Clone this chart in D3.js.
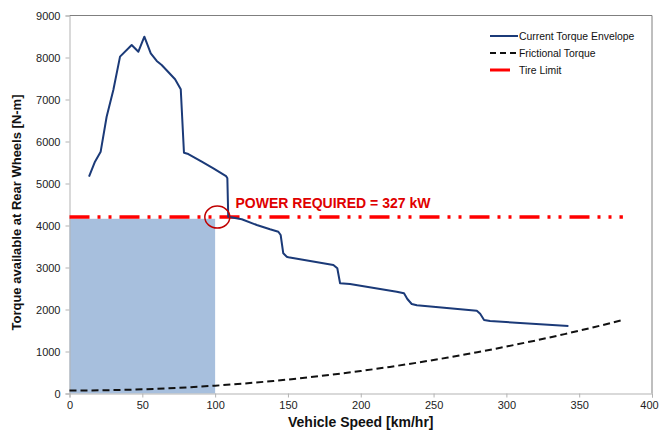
<!DOCTYPE html>
<html>
<head>
<meta charset="utf-8">
<title>torque envelope</title>
<script src="https://cdn.jsdelivr.net/npm/d3@7"></script>
<style>
	body, html{
		margin: 0;
		padding: 0;
		background: #fff;
	}
	svg{
		display: block;
		font-family: "Liberation Sans", Arial, sans-serif;
	}
	.tick text{
		fill: #222;
		font-size: 11px;
	}
	.axis-title{
		font-weight: bold;
		fill: #111;
	}
	.legend text{
		font-size: 10.4px;
		fill: #111;
	}
</style>
</head>
<body>
<svg id="chart" width="659" height="431"></svg>
<script>
	// current torque envelope
	var envSpeed = [13.4, 17.5, 21.4, 25.5, 30.1, 34.7, 42.7, 47.3, 51.4, 55.8, 59.9, 63.3, 72.5, 76.4, 78.6, 81.6, 90.8, 98.8, 107.5, 108.4,
		109.0, 118.3, 128.6, 137.7, 143.4, 145.0, 146.8, 149.2, 150.3, 181.2, 183.9, 185.8, 192.6, 224.7, 229.7, 232.0, 235.0, 238.5,
		279.7, 282.0, 284.7, 288.8, 342.6];
	var envTorque = [5162, 5520, 5757, 6590, 7226, 8020, 8298, 8138, 8495, 8100, 7917, 7821, 7481, 7243, 5733, 5702, 5520, 5362, 5178, 5124,
		4210, 4148, 4012, 3910, 3852, 3774, 3338, 3257, 3243, 3060, 2981, 2624, 2607, 2424, 2386, 2250, 2131, 2100,
		1971, 1900, 1750, 1726, 1607];

	// frictional torque
	var fricSpeed = [0, 20, 40, 60, 80, 100, 120, 140, 160, 180, 200, 220, 240, 260, 280, 300, 320, 340, 360, 380];
	var fricTorque = [70, 75, 89, 112, 144, 186, 237, 298, 368, 447, 535, 633, 740, 856, 982, 1117, 1261, 1414, 1577, 1750];

	// tire limit
	var tireSpeed = [0, 380];
	var tireTorque = [4200, 4200];

	// shaded power region and marker
	var shadeSpeed = [0, 100];
	var shadeTorque = 4160;
	var markSpeed = 101.5;
	var markTorque = 4200;

	var xTicks = [0, 50, 100, 150, 200, 250, 300, 350, 400];
	var yTicks = [0, 1000, 2000, 3000, 4000, 5000, 6000, 7000, 8000, 9000];

	var legendLabels = ['Current Torque Envelope', 'Frictional Torque', 'Tire Limit'];

	function draw() {
		var svg = d3.select('#chart'),
			plotLeft = 69.5, plotRight = 652, plotTop = 15.5, plotBottom = 393.5;

		var x = d3.scaleLinear().domain([0, 400]).range([plotLeft, plotRight]),
			y = d3.scaleLinear().domain([0, 9000]).range([plotBottom, plotTop]);

		// shaded block
		svg.append('rect')
			.attr('x', x(shadeSpeed[0]))
			.attr('y', y(shadeTorque))
			.attr('width', x(shadeSpeed[1]) - x(shadeSpeed[0]))
			.attr('height', y(0) - y(shadeTorque))
			.attr('fill', '#a7bfdd');

		// plot border top / right
		svg.append('path')
			.attr('d', 'M' + plotLeft + ',' + plotTop + 'H' + plotRight + 'V' + plotBottom)
			.attr('fill', 'none')
			.attr('stroke', '#7f7f7f')
			.attr('stroke-width', 1);

		var xAxis = svg.append('g')
			.attr('transform', 'translate(0,' + plotBottom + ')')
			.call(d3.axisBottom(x).tickValues(xTicks).tickSize(4).tickPadding(4));
		var yAxis = svg.append('g')
			.attr('transform', 'translate(' + plotLeft + ',0)')
			.call(d3.axisLeft(y).tickValues(yTicks).tickSize(4).tickPadding(5).tickFormat(d3.format('d')));

		[xAxis, yAxis].forEach(function (a) {
			a.attr('font-family', null).attr('font-size', null);
			a.select('.domain').attr('stroke', '#b3b3b3');
			a.selectAll('.tick line').attr('stroke', '#b3b3b3');
		});

		// last label sits against the right edge
		xAxis.selectAll('.tick text')
			.filter(function (d) { return d === 400; })
			.attr('dx', '-3px');

		var line = d3.line()
			.x(function (d) { return x(d[0]); })
			.y(function (d) { return y(d[1]); });

		// frictional
		svg.append('path')
			.datum(d3.zip(fricSpeed, fricTorque))
			.attr('d', line)
			.attr('fill', 'none')
			.attr('stroke', '#111')
			.attr('stroke-width', 2)
			.attr('stroke-dasharray', '7,4');

		// tire limit
		svg.append('path')
			.datum(d3.zip(tireSpeed, tireTorque))
			.attr('d', line)
			.attr('fill', 'none')
			.attr('stroke', '#ff0000')
			.attr('stroke-width', 3.5)
			.attr('stroke-dasharray', '20,8,3,8,3,8');

		// envelope
		svg.append('path')
			.datum(d3.zip(envSpeed, envTorque))
			.attr('d', line)
			.attr('fill', 'none')
			.attr('stroke', '#1b3a78')
			.attr('stroke-width', 2)
			.attr('stroke-linejoin', 'round');

		// marker ring
		svg.append('ellipse')
			.attr('cx', x(markSpeed))
			.attr('cy', y(markTorque))
			.attr('rx', 12.5)
			.attr('ry', 11)
			.attr('fill', 'none')
			.attr('stroke', '#c00000')
			.attr('stroke-width', 1.5);

		svg.append('text')
			.attr('x', 235.5)
			.attr('y', 207.5)
			.attr('font-size', '14px')
			.attr('font-weight', 'bold')
			.attr('fill', '#e00000')
			.text('POWER REQUIRED = 327 kW');

		// axis titles
		svg.append('text')
			.attr('class', 'axis-title')
			.attr('font-size', '14px')
			.attr('x', (plotLeft + plotRight) / 2)
			.attr('y', 427)
			.attr('text-anchor', 'middle')
			.text('Vehicle Speed [km/hr]');

		svg.append('text')
			.attr('class', 'axis-title')
			.attr('font-size', '13px')
			.attr('transform', 'translate(21,212.5) rotate(-90)')
			.attr('text-anchor', 'middle')
			.text('Torque available at Rear Wheels [N-m]');

		// legend
		var legend = svg.append('g').attr('class', 'legend');
		var legendStyles = [
			{stroke: '#1b3a78', width: 2, dash: null, x2: 518},
			{stroke: '#111', width: 2, dash: '6,4', x2: 518},
			{stroke: '#ff0000', width: 3, dash: null, x2: 510}
		];
		legendLabels.forEach(function (label, i) {
			var yy = 36 + i * 17;
			var s = legendStyles[i];
			legend.append('line')
				.attr('x1', 490).attr('x2', s.x2)
				.attr('y1', yy).attr('y2', yy)
				.attr('stroke', s.stroke)
				.attr('stroke-width', s.width)
				.attr('stroke-dasharray', s.dash);
			legend.append('text')
				.attr('x', 519)
				.attr('y', yy + 3.5)
				.text(label);
		});
	}

	draw();
</script>
</body>
</html>
